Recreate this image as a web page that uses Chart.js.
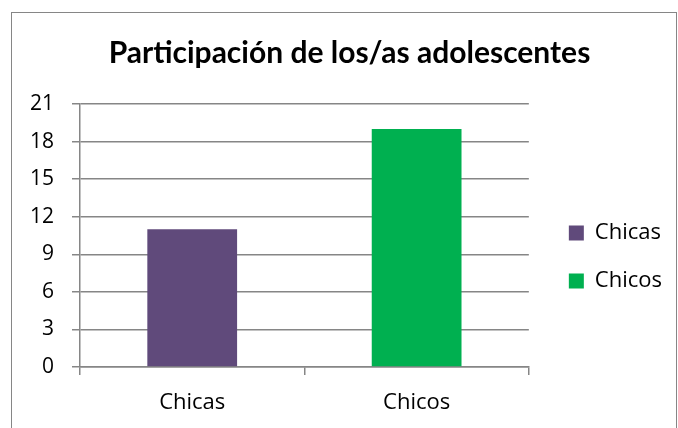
<!DOCTYPE html>
<html>
<head>
<meta charset="utf-8">
<script src="https://cdn.jsdelivr.net/npm/chart.js@4"></script>
<style>
  html, body { margin: 0; padding: 0; background: #fff; }
  #wrap { position: relative; width: 678px; height: 428px; overflow: hidden; }
  #frame { position: absolute; left: 11px; top: 12px; width: 664px; height: 500px; border: 1px solid #868686; }
  canvas { position: absolute; left: 0; top: 0; }
</style>
</head>
<body>
<div id="wrap">
  <div id="frame"></div>
  <canvas id="c" width="678" height="428"></canvas>
</div>
<script>
const titleText = 'Participación de los/as adolescentes';
const categories = ['Chicas', 'Chicos'];
const values = [11, 19];
const barColors = ['#604A7B', '#00B050'];
const yTicks = [0, 3, 6, 9, 12, 15, 18, 21];

const FONT = '"Open Sans", Lato, sans-serif';
const TITLE_FONT = 'Lato, "Open Sans", sans-serif';
const gridColor = '#868686';

// nudges the built-in legend and title to sit where the reference places them
const layoutNudge = {
  id: 'layoutNudge',
  afterLayout(chart) {
    const lg = chart.legend;
    if (lg) {
      const dx = chart.chartArea.right + 14 - lg.left;
      const dy = 43;
      lg.left += dx; lg.right += dx;
      lg.top += dy; lg.bottom += dy;
    }
    const tb = chart.titleBlock;
    if (tb) {
      const tdx = 349.5 - (tb.left + tb.right) / 2;
      tb.left += tdx; tb.right += tdx;
    }
  }
};

new Chart(document.getElementById('c'), {
  type: 'bar',
  data: {
    labels: categories,
    datasets: [{
      label: 'Participación',
      data: values,
      backgroundColor: barColors,
      borderWidth: 0,
      categoryPercentage: 1.0,
      barPercentage: 0.4
    }]
  },
  plugins: [layoutNudge],
  options: {
    responsive: false,
    animation: false,
    devicePixelRatio: 1,
    layout: { padding: { left: 0, right: 20, top: 0, bottom: 0 } },
    plugins: {
      tooltip: { enabled: false },
      title: {
        display: true,
        text: titleText,
        color: '#000',
        font: { family: TITLE_FONT, size: 30, weight: 'bold' },
        padding: { top: 35, bottom: 33 }
      },
      legend: {
        display: true,
        position: 'right',
        align: 'center',
        labels: {
          color: '#000',
          font: { family: FONT, size: 22 },
          boxWidth: 15,
          boxHeight: 15,
          padding: 26,
          generateLabels: (chart) => categories.map((c, i) => ({
            text: c,
            fillStyle: barColors[i],
            strokeStyle: barColors[i],
            lineWidth: 0,
            hidden: false,
            index: i
          }))
        },
        onClick: () => {}
      }
    },
    scales: {
      x: {
        offset: true,
        grid: {
          offset: true,
          drawOnChartArea: false,
          drawTicks: true,
          tickLength: 8,
          color: gridColor,
          lineWidth: 1.5
        },
        border: { display: true, color: gridColor, width: 1.5 },
        ticks: {
          color: '#000',
          font: { family: FONT, size: 22 },
          padding: 15
        },
        afterFit: (s) => { s.height = 61; }
      },
      y: {
        min: 0,
        max: 21,
        afterBuildTicks: (s) => { s.ticks = yTicks.map(v => ({ value: v })); },
        grid: {
          color: gridColor,
          lineWidth: 1.5,
          drawTicks: true,
          tickLength: 8
        },
        border: { display: true, color: gridColor, width: 1.5 },
        ticks: {
          color: '#000',
          font: { family: FONT, size: 21 },
          padding: 18
        },
        afterFit: (s) => { s.width = 80; }
      }
    }
  }
});
</script>
</body>
</html>
